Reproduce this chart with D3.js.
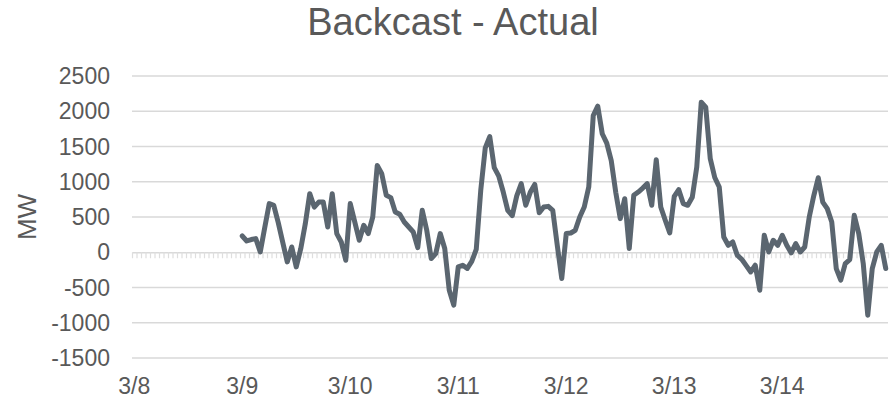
<!DOCTYPE html>
<html><head><meta charset="utf-8">
<script src="https://cdn.jsdelivr.net/npm/d3@7"></script>
<style>
html,body{margin:0;padding:0;background:#fff;}
svg{display:block;font-family:"Liberation Sans",Arial,sans-serif;}
</style></head>
<body><svg id="chart" width="896" height="400"></svg>
<script>
// Day labels (category axis, hourly categories starting 3/8 00:00)
const dayLabels = ["3/8","3/9","3/10","3/11","3/12","3/13","3/14"];
const hoursPerDay = 24;
const totalHours = 168;
// Series starts 3/9 00:00 (hour 24), hourly values (MW)
const seriesStartHour = 24;
const backcastMinusActual = [
  231,160,180,194,4,350,690,665,420,140,-137,75,-208,50,400,831,641,712,712,358,831,265,146,-113,
  690,430,170,382,265,500,1232,1114,807,775,571,538,429,358,287,66,595,311,-90,-19,265,52,-538,-750,
  -208,-184,-230,-130,40,878,1480,1640,1200,1080,854,595,520,800,973,666,850,963,560,641,651,595,99,-372,
  265,273,311,500,641,925,1940,2072,1681,1548,1300,850,477,760,52,807,854,910,973,666,1313,641,453,273,
  793,888,690,666,780,1208,2128,2058,1327,1060,925,217,99,146,-42,-100,-190,-279,-184,-538,241,4,170,99,
  241,99,-10,123,4,75,500,800,1057,712,619,429,-231,-396,-160,-104,524,265,-160,-892,-231,4,99,-231
];
const yTicks = [-1500,-1000,-500,0,500,1000,1500,2000,2500];
const title = "Backcast - Actual";
const yTitle = "MW";

const svg = d3.select("#chart");
const plotLeft = 132, plotRight = 888, plotTop = 76, plotBottom = 358;

const x = d3.scaleLinear().domain([-0.5, totalHours - 0.5]).range([plotLeft, plotRight]);
const y = d3.scaleLinear().domain([-1500, 2500]).range([plotBottom, plotTop]);

// gridlines
svg.append("g").selectAll("line").data(yTicks.filter(d => d !== 0)).join("line")
  .attr("x1", plotLeft).attr("x2", plotRight)
  .attr("y1", d => y(d)).attr("y2", d => y(d))
  .attr("stroke", "#d9d9d9").attr("stroke-width", 1.3);

// y tick labels
svg.append("g").selectAll("text").data(yTicks).join("text")
  .attr("x", 110).attr("y", d => y(d)).attr("dy", "0.35em")
  .attr("text-anchor", "end").attr("fill", "#595959").attr("font-size", 23)
  .text(d => d);

// category axis at zero with hourly tick marks
const xAxis = d3.axisBottom(x)
  .tickValues(d3.range(-0.5, totalHours, 1))
  .tickSize(6).tickSizeOuter(0).tickFormat("");
const ax = svg.append("g").attr("transform", `translate(0,${y(0)})`).call(xAxis);
ax.select(".domain").attr("stroke", "#d9d9d9").attr("stroke-width", 1.3);
ax.selectAll(".tick line").attr("stroke", "#dedede").attr("stroke-width", 1.2);

// day labels
svg.append("g").selectAll("text").data(dayLabels).join("text")
  .attr("x", (d, i) => x(i * hoursPerDay)).attr("y", 394)
  .attr("text-anchor", "middle").attr("fill", "#595959").attr("font-size", 23)
  .text(d => d);

// line
const pts = backcastMinusActual.map((v, i) => ({h: seriesStartHour + i, v}));
svg.append("path").datum(pts)
  .attr("fill", "none").attr("stroke", "#5b6670").attr("stroke-width", 5)
  .attr("stroke-linejoin", "round").attr("stroke-linecap", "round")
  .attr("d", d3.line().x(d => x(d.h)).y(d => y(d.v)));

// title
svg.append("text").attr("x", 453).attr("y", 35).attr("text-anchor", "middle")
  .attr("fill", "#595959").attr("font-size", 38).text(title);

// y axis title
svg.append("text").attr("transform", `translate(36,${(plotTop + plotBottom) / 2}) rotate(-90)`)
  .attr("text-anchor", "middle").attr("fill", "#595959").attr("font-size", 26).text(yTitle);
</script>
</body></html>
